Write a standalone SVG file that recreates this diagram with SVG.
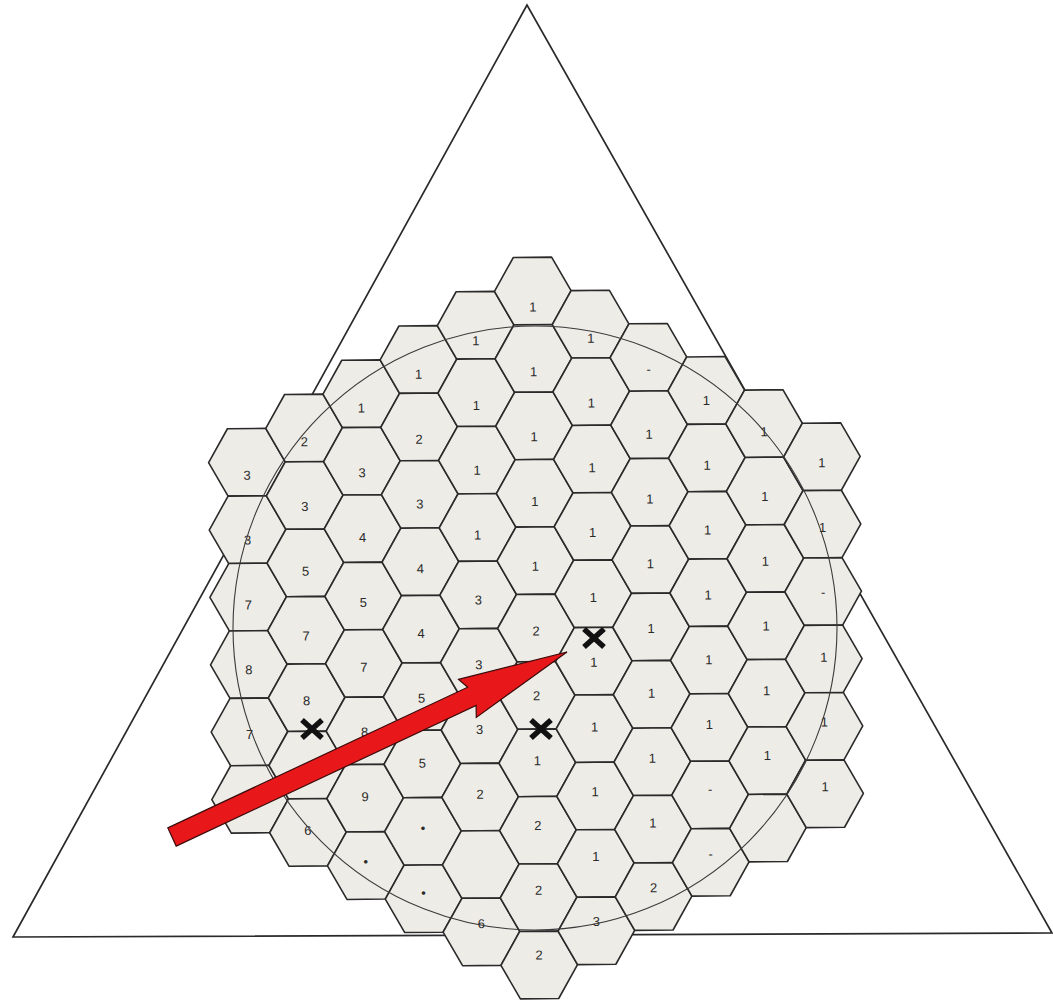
<svg xmlns="http://www.w3.org/2000/svg" xmlns:xlink="http://www.w3.org/1999/xlink" width="1053" height="1001" viewBox="0 0 1053 1001">
<style>
.hx{fill:#eeece7;stroke:#2a2a2a;stroke-width:1.6;stroke-linejoin:round}
.lb{font-family:"Liberation Sans","DejaVu Sans",sans-serif;font-size:13px;fill:#2a2a2a;text-anchor:middle}
.xm{stroke:#111;stroke-width:5.5;stroke-linecap:butt}
</style>
<defs>
<path id="hx" class="hx" d="M-38.3,0 L-19.15,-33.7 L19.15,-33.7 L38.3,0 L19.15,33.7 L-19.15,33.7 Z"/>
</defs>
<rect width="1053" height="1001" fill="#ffffff"/>
<g id="triangle"><polygon points="527,5 13,937 1052,933" fill="none" stroke="#2a2a2a" stroke-width="1.7" stroke-linejoin="miter"/></g>
<g id="grid" transform="rotate(-0.55 536 628)">
<g id="h-5_5" transform="translate(248.5 459.5)"><use href="#hx"/><text class="lb" y="17.5">3</text></g>
<g id="h-5_7" transform="translate(248.5 526.9)"><use href="#hx"/><text class="lb" y="14.9">3</text></g>
<g id="h-5_9" transform="translate(248.5 594.3)"><use href="#hx"/><text class="lb" y="12.3">7</text></g>
<g id="h-5_11" transform="translate(248.5 661.7)"><use href="#hx"/><text class="lb" y="9.7">8</text></g>
<g id="h-5_13" transform="translate(248.5 729.1)"><use href="#hx"/><text class="lb" y="7.1">7</text></g>
<g id="h-5_15" transform="translate(248.5 796.5)"><use href="#hx"/></g>
<g id="h-4_4" transform="translate(306 425.8)"><use href="#hx"/><text class="lb" y="18.1">2</text></g>
<g id="h-4_6" transform="translate(306 493.2)"><use href="#hx"/><text class="lb" y="15.5">3</text></g>
<g id="h-4_8" transform="translate(306 560.6)"><use href="#hx"/><text class="lb" y="12.9">5</text></g>
<g id="h-4_10" transform="translate(306 628)"><use href="#hx"/><text class="lb" y="10.3">7</text></g>
<g id="h-4_12" transform="translate(306 695.4)"><use href="#hx"/><text class="lb" y="7.7">8</text></g>
<g id="h-4_14" transform="translate(306 762.8)"><use href="#hx"/></g>
<g id="h-4_16" transform="translate(306 830.2)"><use href="#hx"/><text class="lb" y="2.5">6</text></g>
<g id="h-3_3" transform="translate(363.5 392.1)"><use href="#hx"/><text class="lb" y="18.7">1</text></g>
<g id="h-3_5" transform="translate(363.5 459.5)"><use href="#hx"/><text class="lb" y="16.1">3</text></g>
<g id="h-3_7" transform="translate(363.5 526.9)"><use href="#hx"/><text class="lb" y="13.5">4</text></g>
<g id="h-3_9" transform="translate(363.5 594.3)"><use href="#hx"/><text class="lb" y="10.9">5</text></g>
<g id="h-3_11" transform="translate(363.5 661.7)"><use href="#hx"/><text class="lb" y="8.3">7</text></g>
<g id="h-3_13" transform="translate(363.5 729.1)"><use href="#hx"/><text class="lb" y="5.7">8</text></g>
<g id="h-3_15" transform="translate(363.5 796.5)"><use href="#hx"/><text class="lb" y="3.1">9</text></g>
<g id="h-3_17" transform="translate(363.5 863.9)"><use href="#hx"/><text class="lb" y="0.5">•</text></g>
<g id="h-2_2" transform="translate(421 358.4)"><use href="#hx"/><text class="lb" y="19.3">1</text></g>
<g id="h-2_4" transform="translate(421 425.8)"><use href="#hx"/><text class="lb" y="16.7">2</text></g>
<g id="h-2_6" transform="translate(421 493.2)"><use href="#hx"/><text class="lb" y="14.1">3</text></g>
<g id="h-2_8" transform="translate(421 560.6)"><use href="#hx"/><text class="lb" y="11.5">4</text></g>
<g id="h-2_10" transform="translate(421 628)"><use href="#hx"/><text class="lb" y="8.9">4</text></g>
<g id="h-2_12" transform="translate(421 695.4)"><use href="#hx"/><text class="lb" y="6.3">5</text></g>
<g id="h-2_14" transform="translate(421 762.8)"><use href="#hx"/><text class="lb" y="3.7">5</text></g>
<g id="h-2_16" transform="translate(421 830.2)"><use href="#hx"/><text class="lb" y="1.1">•</text></g>
<g id="h-2_18" transform="translate(421 897.6)"><use href="#hx"/><text class="lb" y="-1.5">•</text></g>
<g id="h-1_1" transform="translate(478.5 324.7)"><use href="#hx"/><text class="lb" y="19.9">1</text></g>
<g id="h-1_3" transform="translate(478.5 392.1)"><use href="#hx"/><text class="lb" y="17.3">1</text></g>
<g id="h-1_5" transform="translate(478.5 459.5)"><use href="#hx"/><text class="lb" y="14.7">1</text></g>
<g id="h-1_7" transform="translate(478.5 526.9)"><use href="#hx"/><text class="lb" y="12.1">1</text></g>
<g id="h-1_9" transform="translate(478.5 594.3)"><use href="#hx"/><text class="lb" y="9.5">3</text></g>
<g id="h-1_11" transform="translate(478.5 661.7)"><use href="#hx"/><text class="lb" y="6.9">3</text></g>
<g id="h-1_13" transform="translate(478.5 729.1)"><use href="#hx"/><text class="lb" y="4.3">3</text></g>
<g id="h-1_15" transform="translate(478.5 796.5)"><use href="#hx"/><text class="lb" y="1.7">2</text></g>
<g id="h-1_17" transform="translate(478.5 863.9)"><use href="#hx"/></g>
<g id="h-1_19" transform="translate(478.5 931.3)"><use href="#hx"/><text class="lb" y="-3.5">6</text></g>
<g id="h0_0" transform="translate(536 291)"><use href="#hx"/><text class="lb" y="20.5">1</text></g>
<g id="h0_2" transform="translate(536 358.4)"><use href="#hx"/><text class="lb" y="17.9">1</text></g>
<g id="h0_4" transform="translate(536 425.8)"><use href="#hx"/><text class="lb" y="15.3">1</text></g>
<g id="h0_6" transform="translate(536 493.2)"><use href="#hx"/><text class="lb" y="12.7">1</text></g>
<g id="h0_8" transform="translate(536 560.6)"><use href="#hx"/><text class="lb" y="10.1">1</text></g>
<g id="h0_10" transform="translate(536 628)"><use href="#hx"/><text class="lb" y="7.5">2</text></g>
<g id="h0_12" transform="translate(536 695.4)"><use href="#hx"/><text class="lb" y="4.9">2</text></g>
<g id="h0_14" transform="translate(536 762.8)"><use href="#hx"/><text class="lb" y="2.3">1</text></g>
<g id="h0_16" transform="translate(536 830.2)"><use href="#hx"/><text class="lb" y="-0.3">2</text></g>
<g id="h0_18" transform="translate(536 897.6)"><use href="#hx"/><text class="lb" y="-2.9">2</text></g>
<g id="h0_20" transform="translate(536 965)"><use href="#hx"/><text class="lb" y="-5.5">2</text></g>
<g id="h1_1" transform="translate(593.5 324.7)"><use href="#hx"/><text class="lb" y="18.5">1</text></g>
<g id="h1_3" transform="translate(593.5 392.1)"><use href="#hx"/><text class="lb" y="15.9">1</text></g>
<g id="h1_5" transform="translate(593.5 459.5)"><use href="#hx"/><text class="lb" y="13.3">1</text></g>
<g id="h1_7" transform="translate(593.5 526.9)"><use href="#hx"/><text class="lb" y="10.7">1</text></g>
<g id="h1_9" transform="translate(593.5 594.3)"><use href="#hx"/><text class="lb" y="8.1">1</text></g>
<g id="h1_11" transform="translate(593.5 661.7)"><use href="#hx"/><text class="lb" y="5.5">1</text></g>
<g id="h1_13" transform="translate(593.5 729.1)"><use href="#hx"/><text class="lb" y="2.9">1</text></g>
<g id="h1_15" transform="translate(593.5 796.5)"><use href="#hx"/><text class="lb" y="0.3">1</text></g>
<g id="h1_17" transform="translate(593.5 863.9)"><use href="#hx"/><text class="lb" y="-2.3">1</text></g>
<g id="h1_19" transform="translate(593.5 931.3)"><use href="#hx"/><text class="lb" y="-4.9">3</text></g>
<g id="h2_2" transform="translate(651 358.4)"><use href="#hx"/><text class="lb" y="16.5">-</text></g>
<g id="h2_4" transform="translate(651 425.8)"><use href="#hx"/><text class="lb" y="13.9">1</text></g>
<g id="h2_6" transform="translate(651 493.2)"><use href="#hx"/><text class="lb" y="11.3">1</text></g>
<g id="h2_8" transform="translate(651 560.6)"><use href="#hx"/><text class="lb" y="8.7">1</text></g>
<g id="h2_10" transform="translate(651 628)"><use href="#hx"/><text class="lb" y="6.1">1</text></g>
<g id="h2_12" transform="translate(651 695.4)"><use href="#hx"/><text class="lb" y="3.5">1</text></g>
<g id="h2_14" transform="translate(651 762.8)"><use href="#hx"/><text class="lb" y="0.9">1</text></g>
<g id="h2_16" transform="translate(651 830.2)"><use href="#hx"/><text class="lb" y="-1.7">1</text></g>
<g id="h2_18" transform="translate(651 897.6)"><use href="#hx"/><text class="lb" y="-4.3">2</text></g>
<g id="h3_3" transform="translate(708.5 392.1)"><use href="#hx"/><text class="lb" y="14.5">1</text></g>
<g id="h3_5" transform="translate(708.5 459.5)"><use href="#hx"/><text class="lb" y="11.9">1</text></g>
<g id="h3_7" transform="translate(708.5 526.9)"><use href="#hx"/><text class="lb" y="9.3">1</text></g>
<g id="h3_9" transform="translate(708.5 594.3)"><use href="#hx"/><text class="lb" y="6.7">1</text></g>
<g id="h3_11" transform="translate(708.5 661.7)"><use href="#hx"/><text class="lb" y="4.1">1</text></g>
<g id="h3_13" transform="translate(708.5 729.1)"><use href="#hx"/><text class="lb" y="1.5">1</text></g>
<g id="h3_15" transform="translate(708.5 796.5)"><use href="#hx"/><text class="lb" y="-1.1">-</text></g>
<g id="h3_17" transform="translate(708.5 863.9)"><use href="#hx"/><text class="lb" y="-3.7">-</text></g>
<g id="h4_4" transform="translate(766 425.8)"><use href="#hx"/><text class="lb" y="12.5">1</text></g>
<g id="h4_6" transform="translate(766 493.2)"><use href="#hx"/><text class="lb" y="9.9">1</text></g>
<g id="h4_8" transform="translate(766 560.6)"><use href="#hx"/><text class="lb" y="7.3">1</text></g>
<g id="h4_10" transform="translate(766 628)"><use href="#hx"/><text class="lb" y="4.7">1</text></g>
<g id="h4_12" transform="translate(766 695.4)"><use href="#hx"/><text class="lb" y="2.1">1</text></g>
<g id="h4_14" transform="translate(766 762.8)"><use href="#hx"/><text class="lb" y="-0.5">1</text></g>
<g id="h4_16" transform="translate(766 830.2)"><use href="#hx"/></g>
<g id="h5_5" transform="translate(823.5 459.5)"><use href="#hx"/><text class="lb" y="10.5">1</text></g>
<g id="h5_7" transform="translate(823.5 526.9)"><use href="#hx"/><text class="lb" y="7.9">1</text></g>
<g id="h5_9" transform="translate(823.5 594.3)"><use href="#hx"/><text class="lb" y="5.3">-</text></g>
<g id="h5_11" transform="translate(823.5 661.7)"><use href="#hx"/><text class="lb" y="2.7">1</text></g>
<g id="h5_13" transform="translate(823.5 729.1)"><use href="#hx"/><text class="lb" y="0.1">1</text></g>
<g id="h5_15" transform="translate(823.5 796.5)"><use href="#hx"/><text class="lb" y="-2.5">1</text></g>
</g>
<g id="circle"><circle cx="535" cy="628" r="302" fill="none" stroke="#3a3a3a" stroke-width="1.1"/></g>
<g id="connectors">
<polygon id="arrow" points="167.8,827.9 467.7,687.2 458.5,679.4 567,652 476.3,717.4 476.1,705.4 176.2,846.1" fill="#e8181a" stroke="#3a0a0a" stroke-width="1.2" stroke-linejoin="miter"/>
</g>
<g id="marks">
<g id="x1" transform="translate(312 729)"><line class="xm" x1="-10" y1="-9" x2="10" y2="9"/><line class="xm" x1="-10" y1="9" x2="10" y2="-9"/></g>
<g id="x2" transform="translate(594 638)"><line class="xm" x1="-10" y1="-9" x2="10" y2="9"/><line class="xm" x1="-10" y1="9" x2="10" y2="-9"/></g>
<g id="x3" transform="translate(541 729)"><line class="xm" x1="-10" y1="-9" x2="10" y2="9"/><line class="xm" x1="-10" y1="9" x2="10" y2="-9"/></g>
</g>
</svg>
